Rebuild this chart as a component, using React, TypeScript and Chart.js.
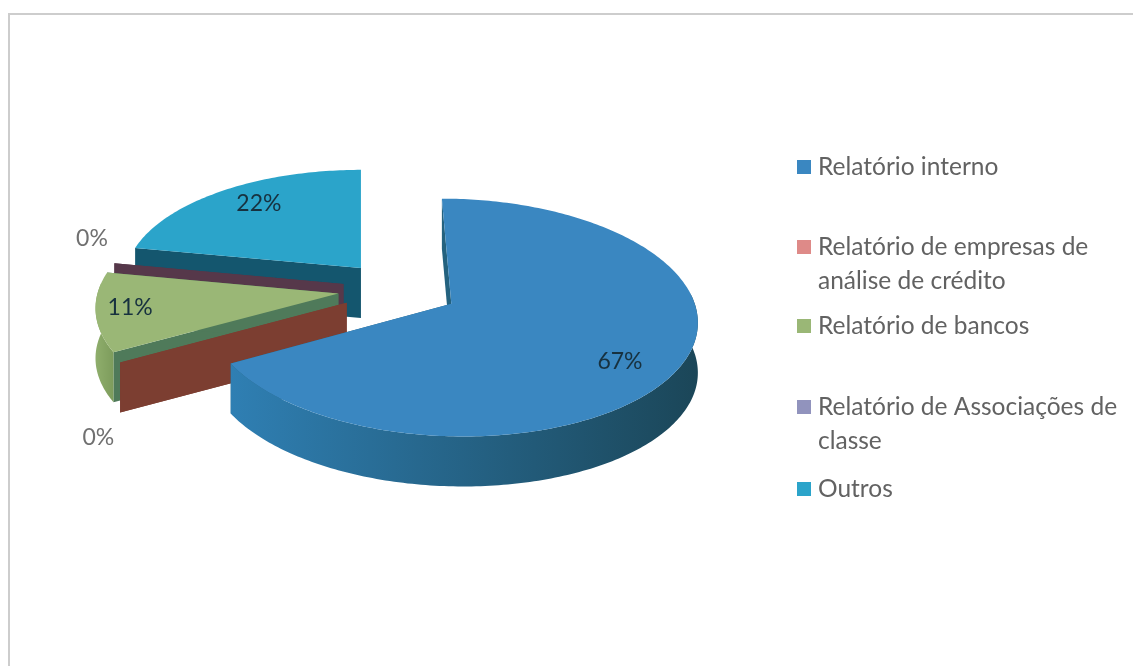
import React, { useEffect, useRef } from "react";
import { Chart, registerables } from "chart.js";

Chart.register(...registerables);

// Survey shares, in slice order.
const categories = [
  "Relatório interno",
  "Relatório de empresas de análise de crédito",
  "Relatório de bancos",
  "Relatório de Associações de classe",
  "Outros",
];
const shares = [67, 0, 11, 0, 22];

const topColors = ["#3a87c1", "#de8a88", "#9ab776", "#9193bd", "#2ba4ca"];
const cutColors = ["#24627f", "#7c3e31", "#4f7a5a", "#56384a", "#14566e"];
const rimLight = ["#2f7fb3", "#7c3e31", "#8fae6c", "#56384a", "#1a6a86"];
const rimDark = ["#1b4658", "#7c3e31", "#7d9c5c", "#56384a", "#14566e"];

// How far each slice is pulled out of the pie.
const explode = [64, 63, 65, 60, 63];

// Where each percentage sits: radial factor from the slice apex, then a screen nudge.
const labelRadius = [0.75, 1.09, 0.86, 1.1, 0.725];
const labelNudgeY = [11, 69, -2, -23, -7];

const legendRows = [167, 247, 326, 407, 489];
const LEGEND_LINE = 34;

// Oblique view of the pie plane.
const SQUASH_X = 0.935;
const SQUASH_Y = 0.444;
const PERSPECTIVE = 0.115;
const VANISH_X = 361;
const DEPTH = 50;
const FONT = "Lato";

type Pt = { x: number; y: number };

const pieIn3D = {
  id: "pieIn3D",
  beforeDatasetDraw(chart: any) {
    const ctx: CanvasRenderingContext2D = chart.ctx;
    const arcs = chart.getDatasetMeta(0).data;

    const project = (arc: any, X: number, Y: number): Pt => {
      const R = arc.outerRadius;
      const s = 1 / (1 - PERSPECTIVE * Y);
      return {
        x: VANISH_X + (arc.x + X * R * SQUASH_X - VANISH_X) * s,
        y: arc.y + Y * R * SQUASH_Y * s,
      };
    };
    const explosion = (arc: any) => {
      const mid = (arc.startAngle + arc.endAngle) / 2;
      const e = arc.options.offset / arc.outerRadius;
      return { X: Math.cos(mid) * e, Y: Math.sin(mid) * e };
    };
    const fillPath = (pts: Pt[], fill: string | CanvasGradient) => {
      ctx.beginPath();
      pts.forEach((p, i) => (i ? ctx.lineTo(p.x, p.y) : ctx.moveTo(p.x, p.y)));
      ctx.closePath();
      ctx.fillStyle = fill;
      ctx.fill();
    };
    const drop = (p: Pt): Pt => ({ x: p.x, y: p.y + DEPTH });

    // Back slices first, so the nearer ones overlap them.
    [4, 3, 2, 1, 0].forEach((i) => {
      const arc = arcs[i];
      const ex = explosion(arc);
      const apex = project(arc, ex.X, ex.Y);
      const rim: Pt[] = [];
      const frontRim: Pt[] = [];
      const steps = Math.max(2, Math.ceil((arc.endAngle - arc.startAngle) * 60));
      for (let k = 0; k <= steps; k++) {
        const a = arc.startAngle + ((arc.endAngle - arc.startAngle) * k) / steps;
        const p = project(arc, ex.X + Math.cos(a), ex.Y + Math.sin(a));
        rim.push(p);
        if (Math.sin(a) > -0.1) frontRim.push(p);
      }
      const first = rim[0];
      const last = rim[rim.length - 1];
      fillPath([apex, first, drop(first), drop(apex)], cutColors[i]);
      fillPath([apex, last, drop(last), drop(apex)], cutColors[i]);
      if (shares[i] > 0) {
        if (frontRim.length > 1) {
          const xs = frontRim.map((p) => p.x);
          const grad = ctx.createLinearGradient(Math.min(...xs), 0, Math.max(...xs), 0);
          grad.addColorStop(0, rimLight[i]);
          grad.addColorStop(1, rimDark[i]);
          fillPath([...frontRim, ...frontRim.slice().reverse().map(drop)], grad);
        }
        fillPath([apex, ...rim], topColors[i]);
      }
    });

    // Percentage labels.
    ctx.textAlign = "center";
    ctx.textBaseline = "middle";
    ctx.font = `23px ${FONT}`;
    const total = shares.reduce((a, b) => a + b, 0);
    arcs.forEach((arc: any, i: number) => {
      const ex = explosion(arc);
      const mid = (arc.startAngle + arc.endAngle) / 2;
      const p = project(
        arc,
        ex.X + Math.cos(mid) * labelRadius[i],
        ex.Y + Math.sin(mid) * labelRadius[i]
      );
      ctx.fillStyle = shares[i] === 0 ? "#707070" : "#17313f";
      ctx.fillText(`${Math.round((shares[i] / total) * 100)}%`, p.x, p.y + labelNudgeY[i]);
    });
    return false;
  },
};

const sheetAndLegend = {
  id: "sheetAndLegend",
  beforeDraw(chart: any) {
    const ctx: CanvasRenderingContext2D = chart.ctx;
    ctx.save();
    ctx.fillStyle = "#ffffff";
    ctx.fillRect(0, 0, chart.width, chart.height);
    ctx.strokeStyle = "#cdcdcd";
    ctx.lineWidth = 2;
    ctx.beginPath();
    ctx.moveTo(9, chart.height);
    ctx.lineTo(9, 14);
    ctx.lineTo(chart.width, 14);
    ctx.stroke();
    ctx.restore();
  },
  afterDraw(chart: any) {
    const ctx: CanvasRenderingContext2D = chart.ctx;
    ctx.save();
    ctx.font = `24.5px ${FONT}`;
    ctx.textBaseline = "middle";
    ctx.textAlign = "left";
    categories.forEach((name, i) => {
      const y = legendRows[i];
      ctx.fillStyle = topColors[i];
      ctx.fillRect(797, y - 7, 14, 14);
      // Wrap to the width of the legend column.
      const lines: string[] = [];
      let line = "";
      name.split(" ").forEach((word) => {
        const next = line ? `${line} ${word}` : word;
        if (ctx.measureText(next).width > 305 && line) {
          lines.push(line);
          line = word;
        } else {
          line = next;
        }
      });
      lines.push(line);
      ctx.fillStyle = "#626262";
      lines.forEach((text, k) => ctx.fillText(text, 818, y + k * LEGEND_LINE));
    });
    ctx.restore();
  },
};

export default function App() {
  const ref = useRef<HTMLCanvasElement>(null);
  useEffect(() => {
    document.body.style.margin = "0";
    const chart = new Chart(ref.current!, {
      type: "pie",
      data: {
        labels: categories,
        datasets: [{ data: shares, backgroundColor: topColors, offset: explode, borderWidth: 0 }],
      },
      options: {
        responsive: false,
        animation: false,
        layout: { padding: { right: 336, bottom: 88 } },
        plugins: { legend: { display: false }, tooltip: { enabled: false } },
      },
      plugins: [sheetAndLegend, pieIn3D],
    });
    return () => chart.destroy();
  }, []);
  return <canvas ref={ref} width={1133} height={666} style={{ display: "block" }} />;
}
